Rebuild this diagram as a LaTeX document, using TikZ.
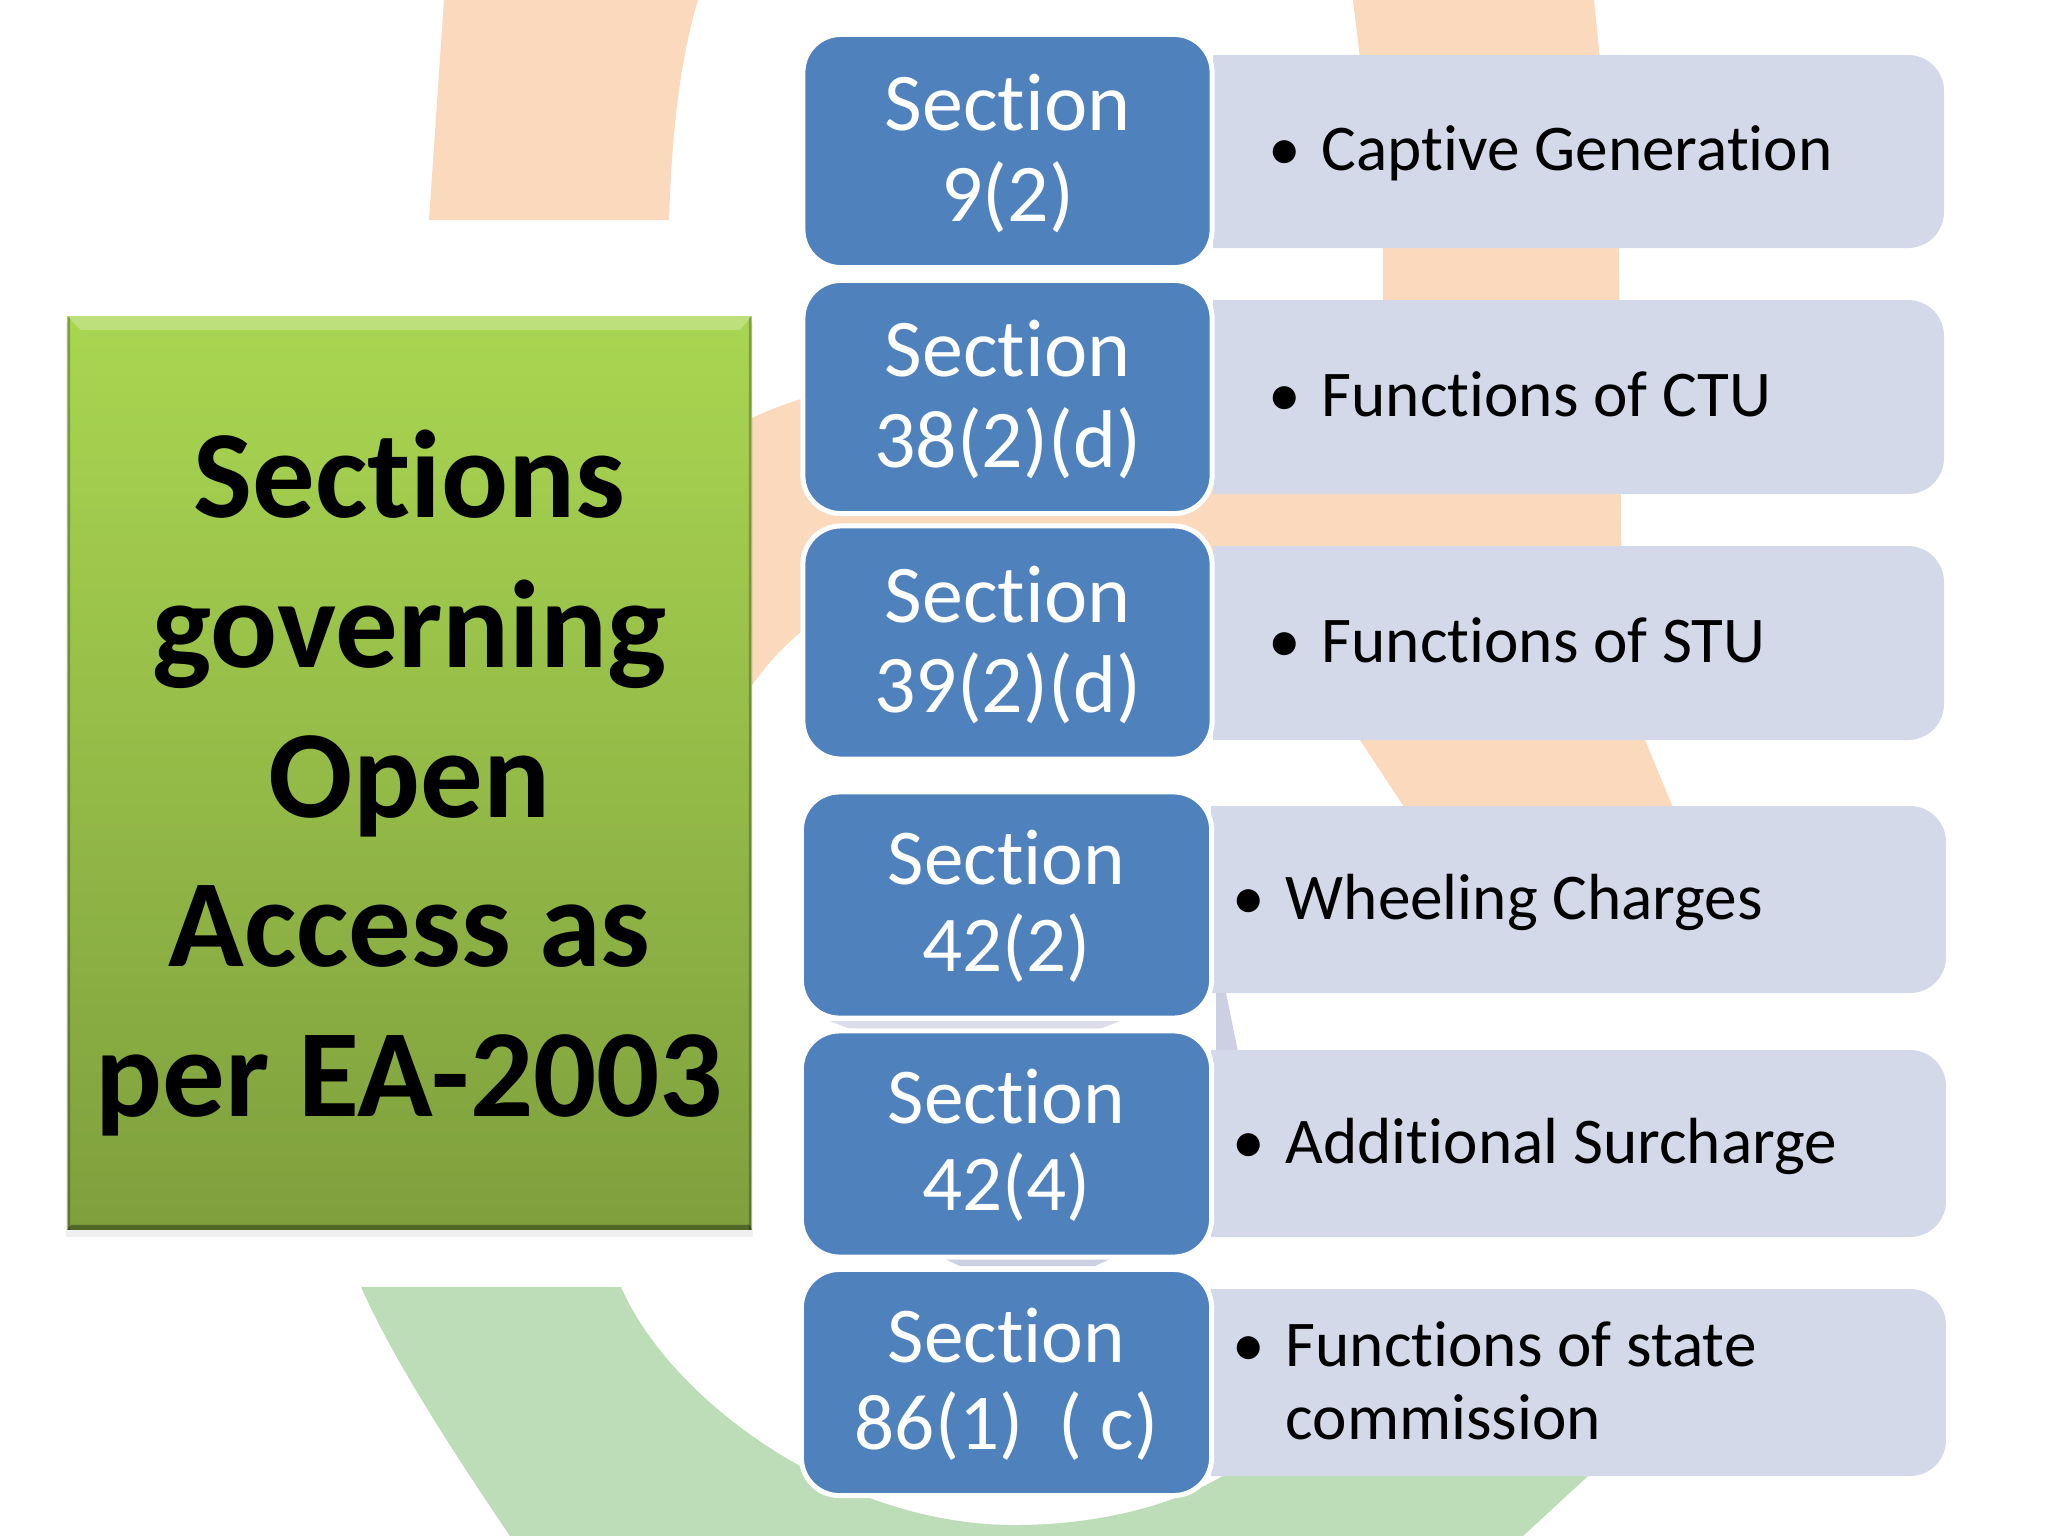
\documentclass[tikz,border=0pt]{standalone}
\usepackage{xcolor}
\usepackage{fontspec}
\setmainfont[Ligatures=NoCommon]{Carlito}
\definecolor{secblue}{HTML}{4F81BD}
\definecolor{rowgrey}{HTML}{D3D9E8}
\definecolor{logoorange}{HTML}{FBD9BD}
\definecolor{logogreen}{HTML}{BDDDB8}
\definecolor{logogrey}{HTML}{CDCFE2}
\definecolor{titletop}{HTML}{A9D651}
\definecolor{titlebot}{HTML}{7F9F3D}
\newcommand{\rowitem}[1]{\makebox[53.5\unitlength][l]{\textbullet}#1}
\setlength{\unitlength}{0.01cm}
\tikzset{
  secbox/.style={rectangle,draw=white,line width=0.05cm,fill=secblue,rounded corners=0.38cm,
    text=white,align=center,inner sep=0pt},
  secupper/.style={secbox,minimum width=4.09cm,minimum height=2.33cm,text height=39.9pt,text depth=0pt,
    font=\fontsize{23.3}{25.7}\selectfont},
  seclower/.style={secbox,minimum width=4.10cm,minimum height=2.26cm,text height=38.05pt,text depth=0pt,
    font=\fontsize{22.5}{24.8}\selectfont},
  rowtext/.style={anchor=base west,align=left,inner sep=0pt,text=black,font=\fontsize{18.55}{20.7}\selectfont},
  rowfill/.style={fill=rowgrey},
  titlebox/.style={rectangle,minimum width=6.83cm,minimum height=9.12cm,top color=titletop,bottom color=titlebot},
  titletext/.style={align=center,inner sep=0pt,font=\fontsize{35.5}{42.6}\selectfont\bfseries}
}

\begin{document}
\begin{tikzpicture}[x=0.01cm,y=-0.01cm]
\useasboundingbox (0,0) rectangle (2048,1536);
\fill[white] (0,0) rectangle (2048,1536);

% Draw the orange parts of the logo
\fill[logoorange] (444,0) -- (429,220) -- (669,220) .. controls (672,130) and (680,60) .. (698,0) -- cycle;
\fill[logoorange] (1353,0) -- (1383,250) -- (1383,360) -- (900,380)
  .. controls (840,385) and (790,400) .. (752,418) -- (752,685) .. controls (770,660) and (790,640) .. (806,628)
  -- (1300,640) -- (1360,740) -- (1406,810) -- (1674,810) -- (1645,740)
  .. controls (1630,670) and (1620,600) .. (1621,500) -- (1619,250) -- (1594,0) -- cycle;

% Draw the green part of the logo
\fill[logogreen] (361,1287) -- (621,1287) .. controls (670,1400) and (840,1525) .. (1014,1525)
  .. controls (1110,1525) and (1190,1500) .. (1240,1465) -- (1600,1465) -- (1523,1536) -- (510,1536)
  .. controls (440,1433) and (389,1350) .. (361,1287) -- cycle;

% Draw the small grey pieces of the logo
\fill[logogrey!70] (830,1021) -- (1120,1021) -- (1100,1029) -- (850,1029) -- cycle;
\fill[logogrey] (1216,993) -- (1226,993) -- (1238,1052) -- (1216,1052) -- cycle;
\fill[logogrey] (945,1259) -- (1110,1259) -- (1095,1266) -- (960,1266) -- cycle;

% Draw the shadow and the title box
\fill[black,opacity=0.06] (66,322) rectangle (753,1237);
\node[titlebox] (title) at (409.5,773) {};
\fill[white,opacity=0.25] (title.north west) -- (title.north east) -- ++(-12,14) -- ++(-659,0) -- cycle;
\fill[black,opacity=0.35] (title.south west) -- (title.south east) -- ++(-2,-5) -- ++(-679,0) -- cycle;
\fill[black,opacity=0.25] (title.north west) -- (title.south west) -- ++(3,0) -- ++(0,-912) -- cycle;
\fill[black,opacity=0.25] (title.north east) -- (title.south east) -- ++(-3,0) -- ++(0,-912) -- cycle;
\node[titletext] (titlelabel) at (409.5,783) {Sections\\governing\\Open\\Access as\\per EA-2003};

% Draw the grey rows
\fill[rowfill] (1213,55) [rounded corners=0.36cm] -- (1944,55) -- (1944,248) [sharp corners] -- (1213,248) -- cycle;
\fill[rowfill] (1213,300) [rounded corners=0.36cm] -- (1944,300) -- (1944,494) [sharp corners] -- (1213,494) -- cycle;
\fill[rowfill] (1213,546) [rounded corners=0.36cm] -- (1944,546) -- (1944,740) [sharp corners] -- (1213,740) -- cycle;
\fill[rowfill] (1211,806) [rounded corners=0.36cm] -- (1946,806) -- (1946,993) [sharp corners] -- (1211,993) -- cycle;
\fill[rowfill] (1211,1050) [rounded corners=0.36cm] -- (1946,1050) -- (1946,1237) [sharp corners] -- (1211,1237) -- cycle;
\fill[rowfill] (1211,1289) [rounded corners=0.36cm] -- (1946,1289) -- (1946,1476) [sharp corners] -- (1211,1476) -- cycle;

% Draw the blue section boxes
\node[secupper] (sec92) at (1007.5,151) {Section\\9(2)};
\node[secupper] (sec38) at (1007.5,397) {Section\\38(2)(d)};
\node[secupper] (sec39) at (1007.5,642.5) {Section\\39(2)(d)};
\node[seclower] (sec422) at (1006.5,905) {Section\\42(2)};
\node[seclower] (sec424) at (1006.5,1144) {Section\\42(4)};
\node[seclower] (sec86) at (1006.5,1382.5) {Section\\86(1)\ \ ( c)};

% Add labels
\node[rowtext] (captive) at (1267.5,170) {\rowitem{Captive Generation}};
\node[rowtext] (ctu) at (1267.5,416) {\rowitem{Functions of CTU}};
\node[rowtext] (stu) at (1267.5,662) {\rowitem{Functions of STU}};
\node[rowtext] (wheeling) at (1231.5,919) {\rowitem{Wheeling Charges}};
\node[rowtext] (surcharge) at (1231.5,1163) {\rowitem{Additional Surcharge}};
\node[rowtext,anchor=west] (state) at (1231.5,1381) {\rowitem{Functions of state}\\\hspace*{53.5\unitlength}commission};

\end{tikzpicture}
\end{document}
